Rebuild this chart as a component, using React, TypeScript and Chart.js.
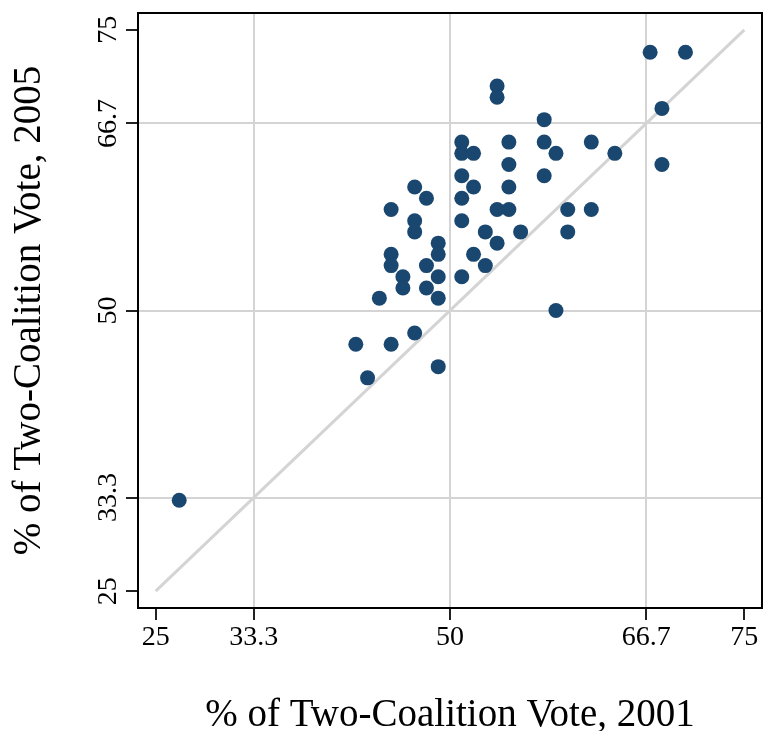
import React, { useEffect, useRef } from "react";
import { Chart, registerables } from "chart.js";

Chart.register(...registerables);

const vote2001: number[] = [27, 67, 70, 68, 68, 64, 62, 62, 60, 60, 59, 59, 58, 58, 58, 54, 54, 55, 55, 55, 55, 54, 56, 54, 53, 53, 52, 51, 51, 51, 52, 51, 52, 51, 51, 49, 49, 49, 49, 49, 48, 48, 48, 47, 47, 47, 47, 46, 46, 45, 45, 45, 45, 44, 42, 43];
const vote2005: number[] = [33.1, 73, 73, 68, 63, 64, 65, 59, 59, 57, 50, 64, 67, 65, 62, 70, 69, 65, 63, 61, 59, 59, 57, 56, 57, 54, 55, 53, 65, 64, 64, 62, 61, 60, 58, 56, 55, 53, 51.1, 45, 54, 52, 60, 61, 58, 57, 48, 53, 52, 59, 55, 54, 47, 51.1, 47, 44];

const diagonalX: number[] = [25, 75];
const diagonalY: number[] = [25, 75];

const tickValues: number[] = [25, 100 / 3, 50, 200 / 3, 75];
const tickLabels: string[] = ["25", "33.3", "50", "66.7", "75"];

const axisMin = 23.5;
const axisMax = 76.5;

const xTitle = "% of Two-Coalition Vote, 2001";
const yTitle = "% of Two-Coalition Vote, 2005";

const FONT = "'Liberation Serif', 'Times New Roman', serif";
const GRID = "#d4d4d4";
const NAVY = "#1a476f";

export default function App() {
  const canvasRef = useRef<HTMLCanvasElement | null>(null);

  useEffect(() => {
    const canvas = canvasRef.current;
    if (!canvas) return;

    const framePlugin = {
      id: "frame",
      afterDraw(chart: any) {
        const { ctx, chartArea } = chart;
        ctx.save();
        ctx.strokeStyle = "#000";
        ctx.lineWidth = 2;
        ctx.strokeRect(chartArea.left, chartArea.top, chartArea.right - chartArea.left, chartArea.bottom - chartArea.top);
        ctx.restore();
      },
    };

    const gridColor = (ctx: any) => {
      const v = ctx.tick ? ctx.tick.value : null;
      if (v === 25 || v === 75) return "rgba(0,0,0,0)";
      return GRID;
    };

    const setTicks = (scale: any) => {
      scale.ticks = tickValues.map((v) => ({ value: v }));
    };

    const chart = new Chart(canvas, {
      type: "scatter",
      data: {
        datasets: [
          {
            type: "scatter",
            data: vote2001.map((x, i) => ({ x, y: vote2005[i] })),
            backgroundColor: NAVY,
            borderWidth: 0,
            pointRadius: 7.5,
            pointHoverRadius: 7.5,
            order: 1,
          } as any,
          {
            type: "line",
            data: diagonalX.map((x, i) => ({ x, y: diagonalY[i] })),
            borderColor: GRID,
            borderWidth: 3,
            pointRadius: 0,
            fill: false,
            order: 2,
          } as any,
        ],
      },
      options: {
        animation: false,
        responsive: false,
        devicePixelRatio: 1,
        layout: { autoPadding: false, padding: { left: 0, right: 2, top: 13, bottom: 0 } },
        plugins: {
          legend: { display: false },
          tooltip: { enabled: false },
        },
        scales: {
          x: {
            type: "linear",
            min: axisMin,
            max: axisMax,
            afterBuildTicks: setTicks,
            afterFit: (scale: any) => {
              scale.height = 123;
              scale.paddingLeft = 0;
              scale.paddingRight = 0;
            },
            border: { display: false },
            grid: {
              color: gridColor,
              lineWidth: 2,
              tickColor: "#222",
              tickLength: 12,
              tickWidth: 2,
            },
            ticks: {
              autoSkip: false,
              maxRotation: 0,
              minRotation: 0,
              padding: 1,
              color: "#000",
              font: { family: FONT, size: 28 },
              callback: (_v: any, i: number) => tickLabels[i],
            },
            title: {
              display: true,
              text: xTitle,
              color: "#000",
              font: { family: FONT, size: 39, lineHeight: 0.75 },
              padding: { top: 0, bottom: 1 },
            },
          },
          y: {
            type: "linear",
            min: axisMin,
            max: axisMax,
            afterBuildTicks: setTicks,
            afterFit: (scale: any) => {
              scale.width = 138;
              scale.paddingTop = 0;
              scale.paddingBottom = 0;
            },
            border: { display: false },
            grid: {
              color: gridColor,
              lineWidth: 2,
              tickColor: "#222",
              tickLength: 12,
              tickWidth: 2,
            },
            ticks: {
              autoSkip: false,
              minRotation: 90,
              maxRotation: 90,
              crossAlign: "center",
              padding: -7,
              color: "#000",
              font: { family: FONT, size: 28 },
              callback: (_v: any, i: number) => tickLabels[i],
            },
            title: {
              display: true,
              text: yTitle,
              color: "#000",
              font: { family: FONT, size: 39, lineHeight: 0.75 },
              padding: { top: 15, bottom: 0 },
            },
          },
        },
      } as any,
      plugins: [framePlugin],
    });

    return () => {
      chart.destroy();
    };
  }, []);

  return (
    <div style={{ position: "fixed", left: 0, top: 0, width: 764, height: 731, background: "#fff" }}>
      <canvas ref={canvasRef} width={764} height={731} style={{ display: "block", width: 764, height: 731 }} />
    </div>
  );
}
